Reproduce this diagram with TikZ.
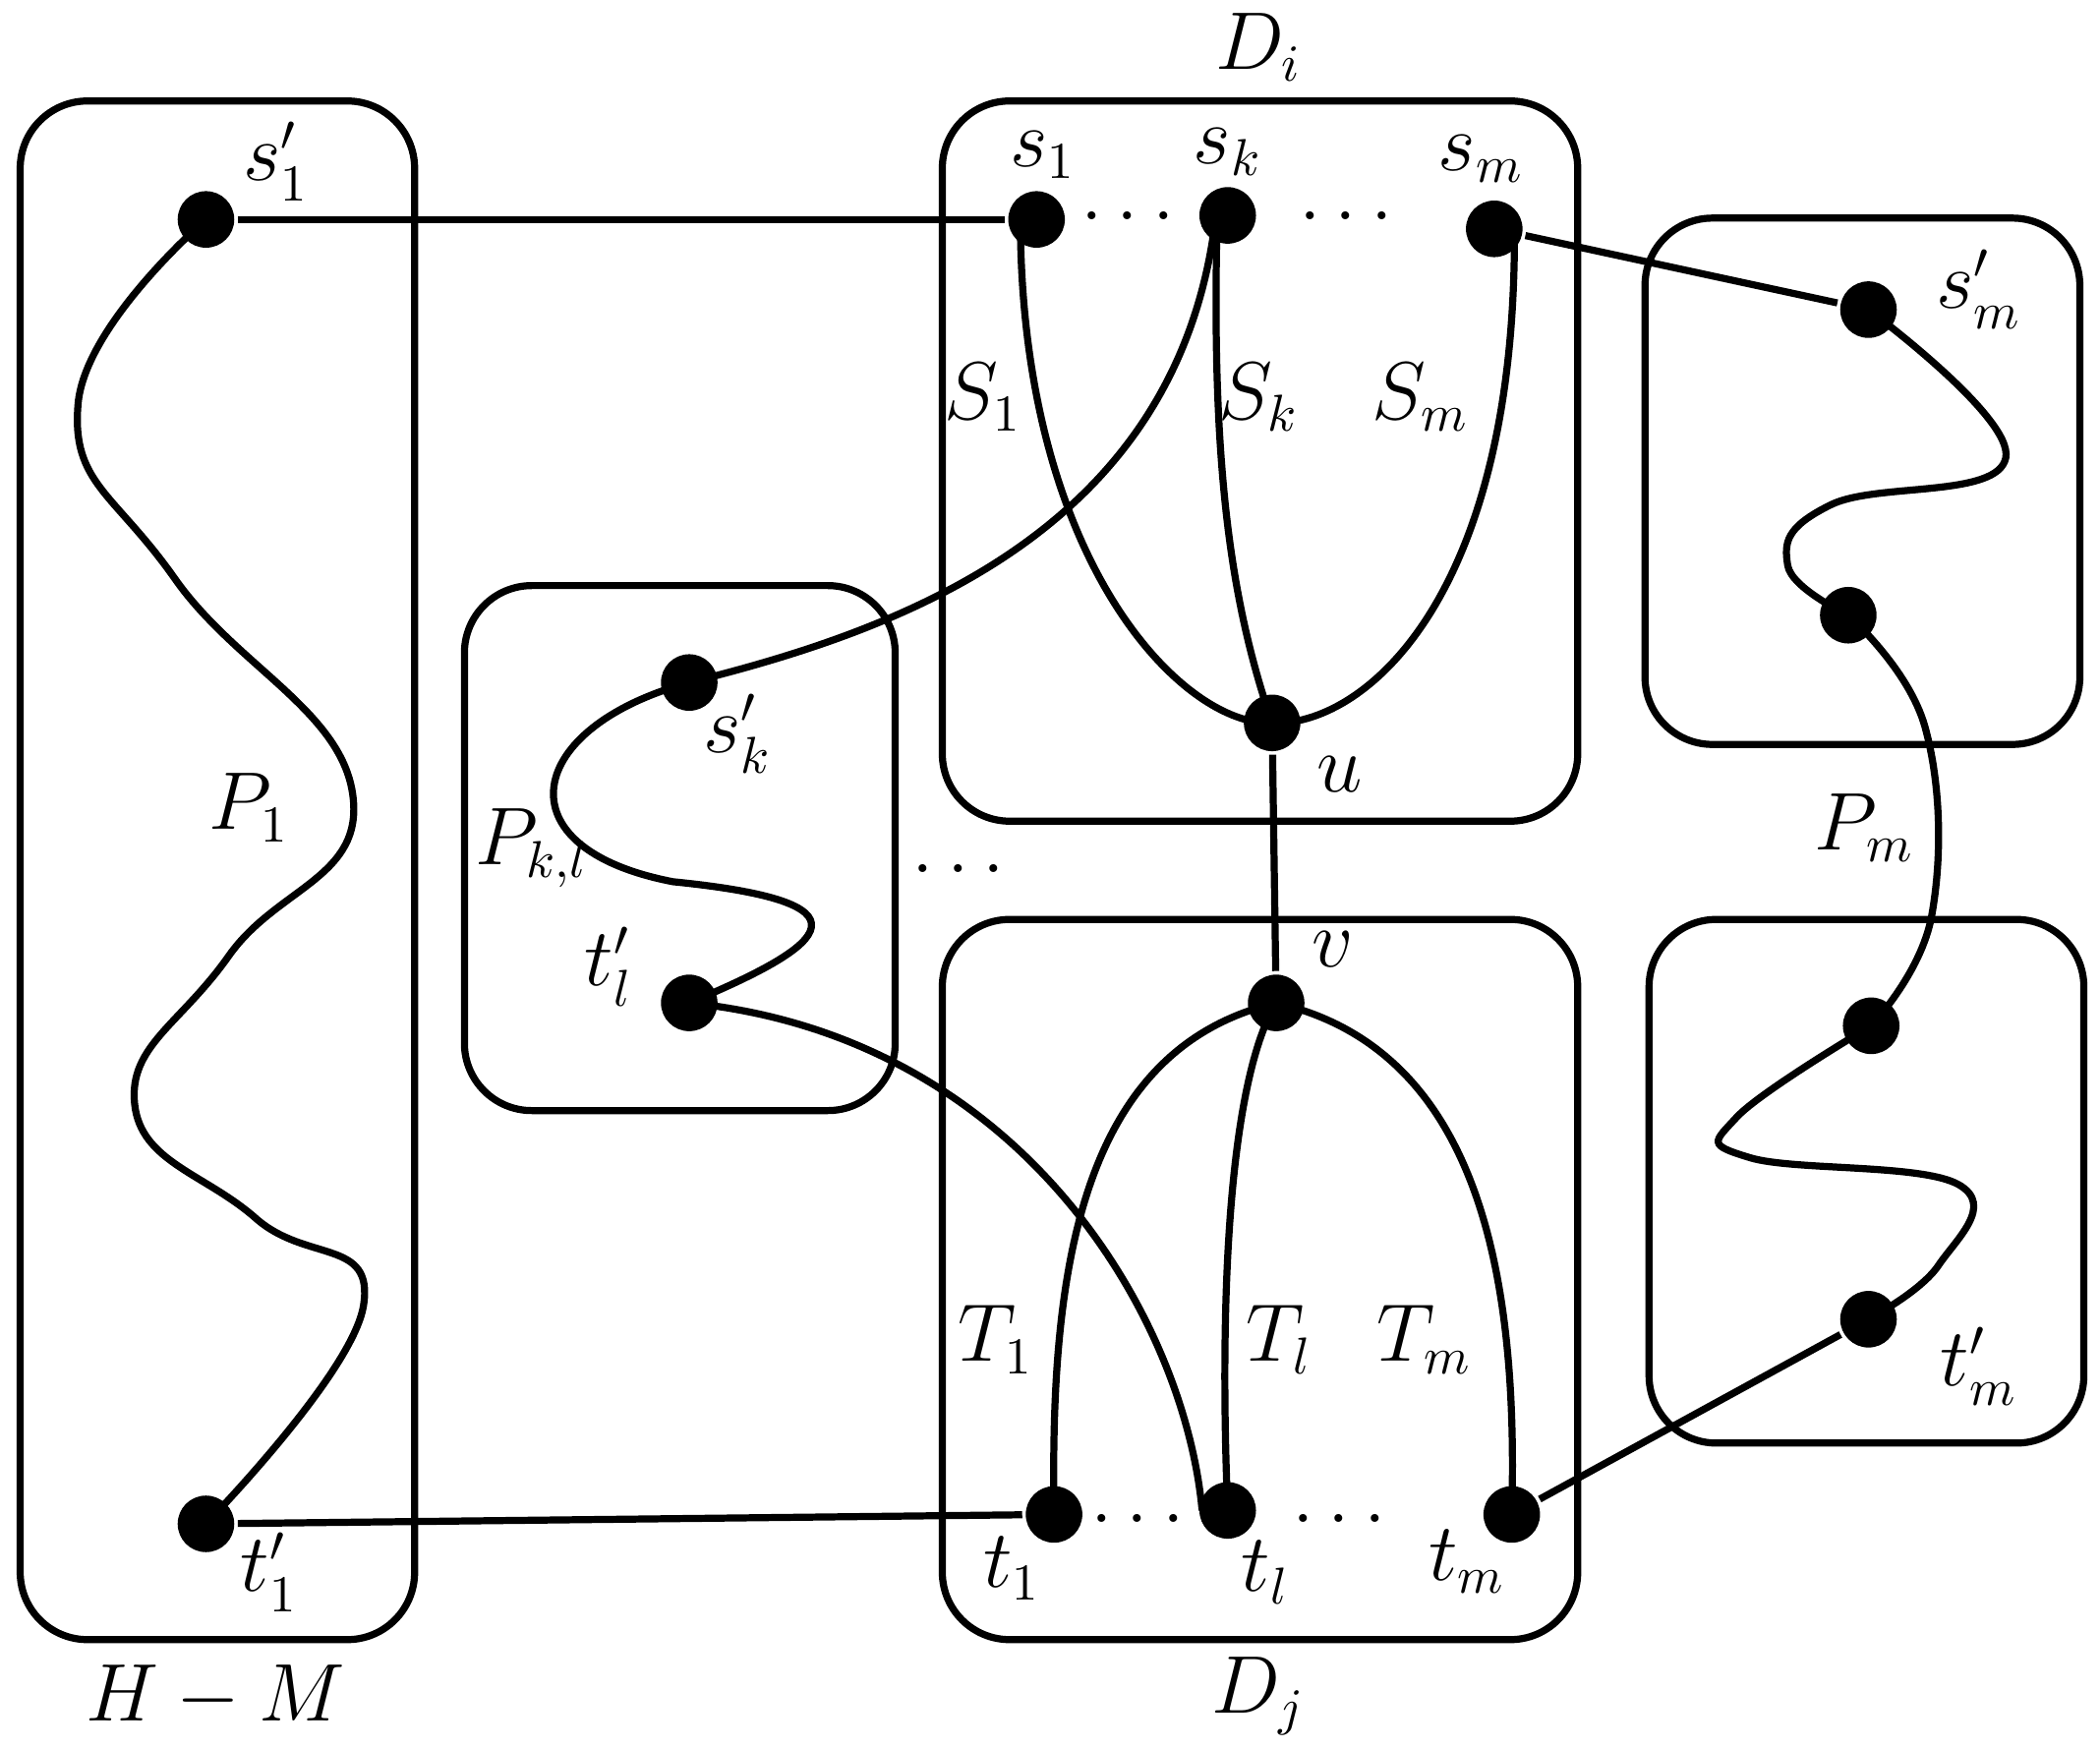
\documentclass[tikz,border=0pt]{standalone}
\begin{document}
\begin{tikzpicture}[x=0.01cm,y=-0.01cm,line width=1.5pt,
  box/.style={draw,rounded corners=0.5cm},
  dot/.style={circle,fill=black,inner sep=0pt,minimum size=0.42cm},
  lab/.style={font=\fontsize{16}{19}\selectfont}]
\useasboundingbox (0,0) rectangle (1560,1299);
\draw[box] (15,75) rectangle (308,1218);
\draw[box] (700,75) rectangle (1172,610);
\draw[box] (700,683) rectangle (1172,1218);
\draw[box] (345,435) rectangle (665,825);
\draw[box] (1222,162) rectangle (1545,553);
\draw[box] (1225,683) rectangle (1548,1072);
\node[dot] (sp1) at (153,163) {};
\node[dot] (tp1) at (153,1132) {};
\node[dot] (s1) at (770,163) {};
\node[dot] (sk) at (912,160) {};
\node[dot] (sm) at (1110,170) {};
\node[dot] (u) at (945,537) {};
\node[dot] (v) at (948,745) {};
\node[dot] (t1) at (783,1125) {};
\node[dot] (tl) at (912,1122) {};
\node[dot] (tm) at (1123,1125) {};
\node[dot] (spk) at (512,507) {};
\node[dot] (tpl) at (512,745) {};
\node[dot] (spm) at (1388,230) {};
\node[dot] (mid) at (1373,457) {};
\node[dot] (r3) at (1390,762) {};
\node[dot] (tpm) at (1388,980) {};
\draw (sp1) -- (s1);
\draw (tp1) -- (t1);
\draw (sm) -- (spm);
\draw (tm) -- (tpm);
\draw (u) -- (v);
\draw (s1.center) ++(-12,5) .. controls (760,420) and (880,540) .. (u.center);
\draw (sk.center) ++(-8,10) .. controls (900,350) and (915,450) .. (u.center);
\draw (sm.center) ++(15,5) .. controls (1125,450) and (1010,540) .. (u.center);
\draw (sk.center) ++(-10,10) .. controls (870,400) and (660,470) .. (spk.center);
\draw (v.center) .. controls (800,780) and (780,950) .. (t1.center);
\draw (v.center) .. controls (915,800) and (905,950) .. (tl.center);
\draw (v.center) .. controls (1100,780) and (1128,950) .. (tm.center);
\draw (tpl.center) .. controls (760,770) and (880,980) .. (893,1122);
\draw (spk.center) .. controls (390,540) and (370,630) .. (500,655)
  .. controls (650,670) and (620,700) .. (tpl.center);
\draw plot[smooth,tension=0.8] coordinates {(153,163) (58,300) (130,430) (262,590) (170,710) (100,820) (190,905) (270,970) (153,1132)};
\draw plot[smooth,tension=0.75] coordinates {(1388,230) (1490,340) (1360,375) (1328,420) (1373,457)};
\draw plot[smooth,tension=0.7] coordinates {(1373,457) (1430,540) (1435,680) (1390,762)};
\draw plot[smooth,tension=0.7] coordinates {(1390,762) (1290,830) (1300,860) (1455,880) (1440,940) (1388,980)};
\node[lab] at (935,35) {$D_i$};
\node[lab] at (935,1260) {$D_j$};
\node[lab] at (160,1260) {$H-M$};
\node[lab] at (205,120) {$s'_1$};
\node[lab] at (200,1168) {$t'_1$};
\node[lab] at (775,115) {$s_1$};
\node[lab] at (912,113) {$s_k$};
\node[lab] at (1100,118) {$s_m$};
\node[lab] at (730,295) {$S_1$};
\node[lab] at (935,295) {$S_k$};
\node[lab] at (1055,295) {$S_m$};
\node[lab] at (995,575) {$u$};
\node[lab] at (990,705) {$v$};
\node[lab] at (185,600) {$P_1$};
\node[lab] at (395,630) {$P_{k,l}$};
\node[lab] at (548,545) {$s'_k$};
\node[lab] at (452,718) {$t'_l$};
\node[lab] at (838,160) {$\dots$};
\node[lab] at (1000,160) {$\dots$};
\node[lab] at (712,645) {$\dots$};
\node[lab] at (845,1128) {$\dots$};
\node[lab] at (995,1128) {$\dots$};
\node[lab] at (740,995) {$T_1$};
\node[lab] at (950,995) {$T_l$};
\node[lab] at (1058,995) {$T_m$};
\node[lab] at (752,1165) {$t_1$};
\node[lab] at (940,1168) {$t_l$};
\node[lab] at (1090,1160) {$t_m$};
\node[lab] at (1470,215) {$s'_m$};
\node[lab] at (1385,615) {$P_m$};
\node[lab] at (1470,1015) {$t'_m$};
\end{tikzpicture}
\end{document}
